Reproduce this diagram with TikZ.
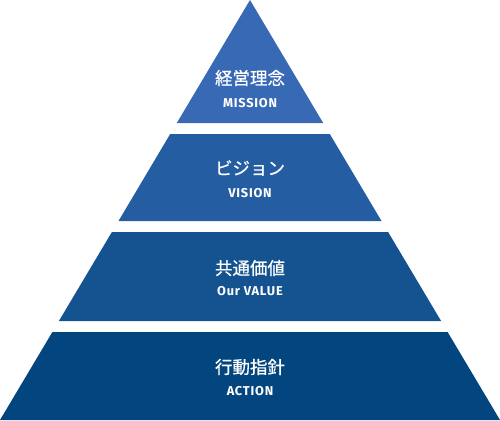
\documentclass[tikz,border=0pt]{standalone}
\usepackage{fontspec}
\newfontfamily\jpfont[FakeBold=0.6]{Noto Sans CJK JP}
\newfontfamily\enfont[LetterSpace=6]{Fira Sans}
\definecolor{c1}{HTML}{3869B5}
\definecolor{c2}{HTML}{245DA2}
\definecolor{c3}{HTML}{145290}
\definecolor{c4}{HTML}{03457E}
\begin{document}
\begin{tikzpicture}[x=1pt,y=-1pt,
  jp/.style={text=white,font=\jpfont\fontsize{17.5}{17.5}\selectfont,inner sep=0pt},
  en/.style={text=white,font=\enfont\bfseries\fontsize{12.8}{12.8}\selectfont,inner sep=0pt}]
\useasboundingbox (0,0) rectangle (500,420);
% slope: half width = y*250/420
\fill[c1] (250,0) -- (323.2,123) -- (176.8,123) -- cycle;
\fill[c2] (170.2,134) -- (329.8,134) -- (381.5,221) -- (118.5,221) -- cycle;
\fill[c3] (111.9,232) -- (388.1,232) -- (441.1,321) -- (58.9,321) -- cycle;
\fill[c4] (52.4,332) -- (447.6,332) -- (500,420) -- (0,420) -- cycle;
\node[jp] (j1) at (250,78) {経営理念};
\node[en] (e1) at (250,103) {MISSION};
\node[jp] (j2) at (250,168) {ビジョン};
\node[en] (e2) at (250,193) {VISION};
\node[jp] (j3) at (250,268) {共通価値};
\node[en] (e3) at (250,291) {Our VALUE};
\node[jp] (j4) at (250,367) {行動指針};
\node[en] (e4) at (250,391) {ACTION};
\end{tikzpicture}
\end{document}
